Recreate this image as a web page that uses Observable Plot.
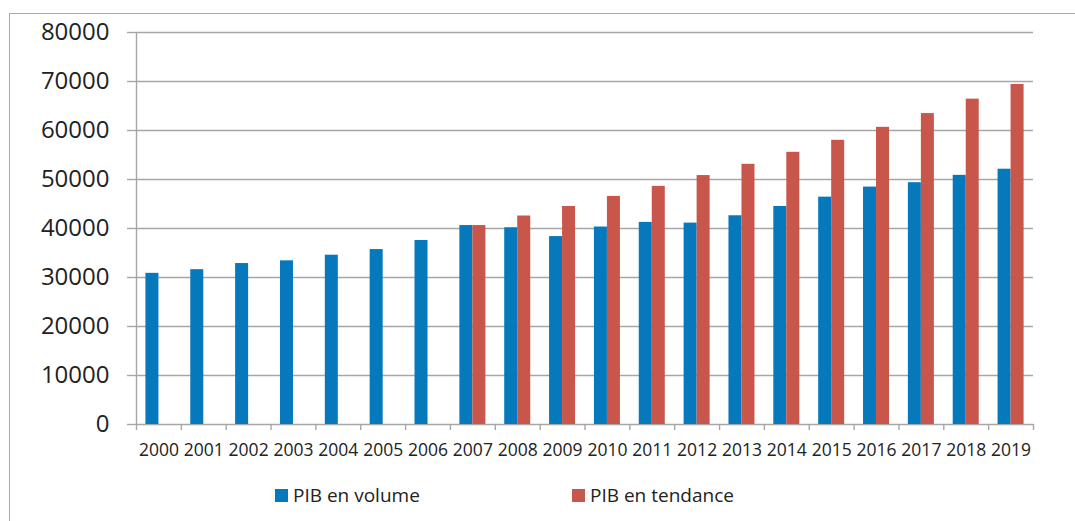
<!DOCTYPE html>
<html>
<head>
<meta charset="utf-8">
<script src="https://cdn.jsdelivr.net/npm/d3@7"></script>
<script src="https://cdn.jsdelivr.net/npm/@observablehq/plot@0.6"></script>
<style>
  html, body { margin: 0; padding: 0; background: #fff; }
  body { width: 1075px; height: 521px; position: relative; overflow: hidden; font-family: "Open Sans", sans-serif; }
  #frame { position: absolute; left: 9px; top: 13px; right: -10px; bottom: -10px; border-left: 1.5px solid #a9a9a9; border-top: 1.5px solid #a9a9a9; }
  #chart { position: absolute; left: 0; top: 0; }
  .legend { position: absolute; top: 482px; left: 0; width: 1075px; height: 26px; font-size: 19px; color: #222; }
  .item { position: absolute; display: flex; align-items: center; }
  .sw { width: 13px; height: 13px; margin-right: 5px; }
</style>
</head>
<body>
<div id="frame"></div>
<div id="chart"></div>
<div class="legend" id="legend"></div>
<script>
const years = [2000,2001,2002,2003,2004,2005,2006,2007,2008,2009,2010,2011,2012,2013,2014,2015,2016,2017,2018,2019];
const pibVolume = [30850,31600,32850,33400,34550,35700,37550,40600,40150,38350,40300,41250,41100,42600,44500,46400,48450,49350,50850,52100];
const pibTendance = [null,null,null,null,null,null,null,40600,42550,44500,46550,48600,50800,53100,55550,58000,60650,63450,66400,69400];
const yTicks = [0,10000,20000,30000,40000,50000,60000,70000,80000];
const seriesNames = ["PIB en volume", "PIB en tendance"];
const seriesColors = ["#0679bd", "#c8564a"];

const volData = years.map((y, i) => ({year: y, value: pibVolume[i]}));
const tendData = years.map((y, i) => ({year: y, value: pibTendance[i]})).filter(d => d.value != null);
const boundaries = years.map(y => y - 0.5).concat([years[years.length - 1] + 0.5]);
const half = 0.29;

const chart = Plot.plot({
  width: 1075,
  height: 470,
  marginTop: 32,
  marginBottom: 46,
  marginLeft: 136,
  marginRight: 42,
  style: {fontFamily: "Open Sans", color: "#222", background: "transparent"},
  x: {type: "linear", domain: [years[0] - 0.5, years[years.length - 1] + 0.5]},
  y: {domain: [0, 80000]},
  marks: [
    Plot.gridY(yTicks, {stroke: "#a6a6a6", strokeOpacity: 1, strokeWidth: 1.4}),
    Plot.ruleX([years[0] - 0.5], {y1: 0, y2: 80000, stroke: "#a6a6a6", strokeWidth: 1.4}),
    Plot.rectY(volData, {x1: d => d.year - half, x2: d => d.year, y1: 0, y2: "value", fill: seriesColors[0]}),
    Plot.rectY(tendData, {x1: d => d.year, x2: d => d.year + half, y1: 0, y2: "value", fill: seriesColors[1]}),
    Plot.axisY(yTicks, {tickSize: 9, tickPadding: 18, fontSize: 24, stroke: "#a6a6a6", strokeWidth: 1.4, fill: "#222", label: null, tickFormat: d => String(d)}),
    Plot.axisX(boundaries, {tickSize: 6, stroke: "#a6a6a6", strokeWidth: 1.4, tickFormat: () => "", label: null}),
    Plot.axisX(years, {tickSize: 0, tickPadding: 19, fontSize: 17.5, fill: "#222", tickFormat: d => String(d), label: null})
  ]
});
document.getElementById("chart").appendChild(chart);

const legend = document.getElementById("legend");
const legendLeft = [275, 572];
seriesNames.forEach((name, i) => {
  const item = document.createElement("div");
  item.className = "item";
  item.style.left = legendLeft[i] + "px";
  const sw = document.createElement("span");
  sw.className = "sw";
  sw.style.background = seriesColors[i];
  const t = document.createElement("span");
  t.textContent = name;
  item.appendChild(sw);
  item.appendChild(t);
  legend.appendChild(item);
});
</script>
</body>
</html>
